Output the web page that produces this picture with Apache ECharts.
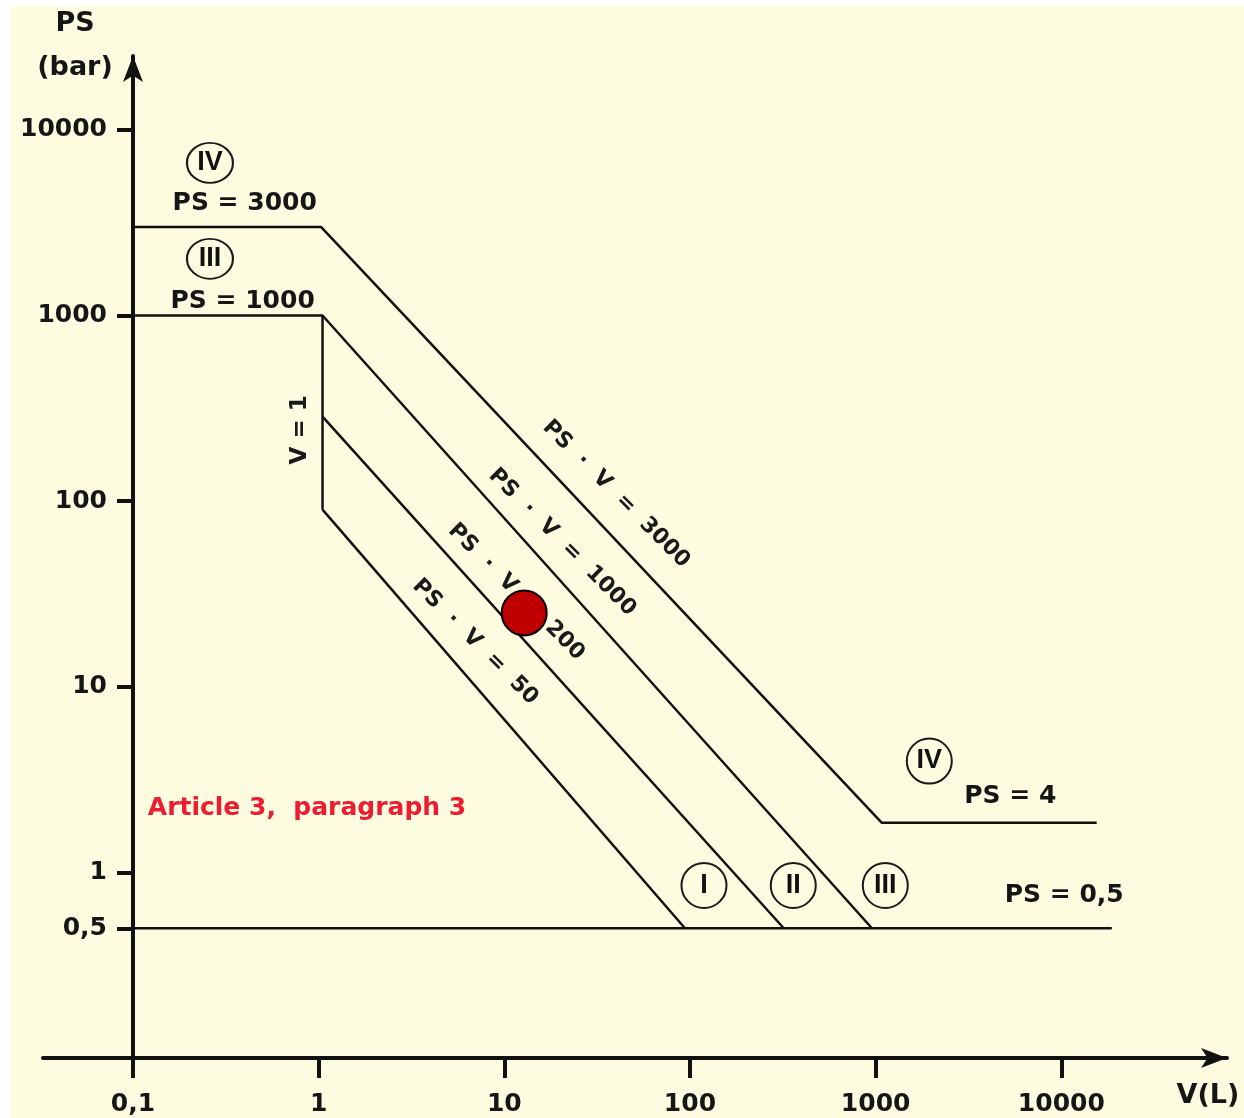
<!DOCTYPE html>
<html><head><meta charset="utf-8">
<script src="https://cdn.jsdelivr.net/npm/echarts@6/dist/echarts.min.js"></script>
<style>
html,body{margin:0;padding:0;background:#fff;width:1244px;height:1118px;overflow:hidden}
#chart{position:absolute;left:11px;top:6px;width:1233px;height:1112px}
</style></head><body><div id="chart"></div>
<script>
// ---- axis ticks (log scales) ----
const xTicks = [0.1, 1, 10, 100, 1000, 10000];
const yTicks = [0.5, 1, 10, 100, 1000, 10000];
const xRange = [0.0328, 78000];
const yRange = [0.1, 25000];

// ---- category boundary lines [V (L), PS (bar)] ----
const boundaryIV  = [[0.1, 3000], [1.03, 3000], [1080, 1.85], [15500, 1.85]];
const boundaryIII = [[0.1, 1000], [1.05, 1000], [955, 0.5]];
const boundaryII  = [[1.05, 285], [320, 0.5]];
const boundaryI   = [[1.05, 90], [94, 0.5]];
const lineV1      = [[1.05, 1000], [1.05, 90]];
const linePS05    = [[0.1, 0.5], [18700, 0.5]];

// ---- category markers [V, PS, label] ----
const circlesTop    = [[0.26, 6640, 'IV'], [0.26, 2020, 'III']];
const circlesBottom = [[1945, 3.98, 'IV'], [119, 0.85, 'I'], [360, 0.85, 'II'], [1127, 0.85, 'III']];

// ---- annotations [V, PS, text] ----
const limitNotes   = [[0.40, 3990, 'PS = 3000'], [0.39, 1183, 'PS = 1000'], [5310, 2.55, 'PS = 4'], [10370, 0.755, 'PS = 0,5']];
const productNotes = [[40, 109, 'PS  ·  V  =  3000'], [20.5, 60, 'PS  ·  V  =  1000'], [11.6, 32.4, 'PS  ·  V  =  200'], [6.97, 17.4, 'PS  ·  V  =  50']];
const volumeNote   = [[0.795, 242, 'V = 1']];
const articleNote  = [[0.866, 2.2, 'Article 3,  paragraph 3']];

// ---- marked equipment point [V, PS] ----
const markedPoint = [[12.8, 25]];

const fmt = v => String(+(+v).toPrecision(6)).replace('.', ',');
const INK = '#111';

function lineSeries(data, w) {
  return {type: 'line', data: data, symbol: 'none', silent: true, clip: false, animation: false,
    lineStyle: {color: INK, width: w, opacity: 1}, emphasis: {disabled: true}, z: 3};
}
function textSeries(data, style, rotate) {
  return {type: 'scatter', symbolSize: 1, silent: true, clip: false, z: 5,
    itemStyle: {color: 'rgba(0,0,0,0)', opacity: 1}, emphasis: {disabled: true},
    data: data.map(d => ({value: [d[0], d[1]], name: d[2]})),
    label: Object.assign({show: true, position: 'inside', formatter: p => p.name, rotate: rotate || 0,
      align: 'center', verticalAlign: 'middle', opacity: 1}, style)};
}
function circleSeries(data, size) {
  return {type: 'scatter', symbol: 'circle', symbolSize: size, silent: true, clip: false, z: 4,
    itemStyle: {color: 'rgba(0,0,0,0)', borderColor: '#1a1a1a', borderWidth: 2, opacity: 1}, emphasis: {disabled: true},
    data: data.map(d => ({value: [d[0], d[1]], name: d[2]})),
    label: {show: true, position: 'inside', formatter: p => p.name, color: INK, opacity: 1,
      fontFamily: 'Liberation Sans', fontWeight: 'bold', fontSize: 27}};
}

const boldText = {fontFamily: 'DejaVu Sans', fontWeight: 'bold', fontSize: 25, color: '#161616'};

const chart = echarts.init(document.getElementById('chart'), null, {renderer: 'canvas'});
chart.setOption({
  backgroundColor: '#FDFCE1',
  animation: false,
  grid: {left: 32, right: 17, top: 50, bottom: 60, outerBoundsMode: 'none', containLabel: false},
  xAxis: {
    type: 'log', logBase: 10, min: xRange[0], max: xRange[1],
    name: 'V(L)', nameLocation: 'end', nameGap: -19, nameMoveOverlap: false,
    nameTextStyle: {fontFamily: 'DejaVu Sans', fontWeight: 'bold', fontSize: 27, color: '#161616',
      align: 'center', verticalAlign: 'top', lineHeight: 76},
    axisLine: {show: true, symbol: ['none', 'arrow'], symbolSize: [15, 26], lineStyle: {color: INK, width: 4}},
    axisTick: {show: true, customValues: xTicks, length: 20, lineStyle: {color: INK, width: 4}},
    axisLabel: {show: true, customValues: xTicks, formatter: fmt, margin: 34,
      fontFamily: 'DejaVu Sans', fontWeight: 'bold', fontSize: 25, color: '#161616'},
    splitLine: {show: false}, minorTick: {show: false}, minorSplitLine: {show: false}
  },
  yAxis: {
    type: 'log', logBase: 10, min: yRange[0], max: yRange[1], offset: -90,
    name: 'PS\n(bar)', nameLocation: 'end', nameGap: 10, nameMoveOverlap: false,
    nameTextStyle: {fontFamily: 'DejaVu Sans', fontWeight: 'bold', fontSize: 27, color: '#161616',
      align: 'center', verticalAlign: 'middle', lineHeight: 44, padding: [0, 116, 0, 0]},
    axisLine: {show: true, symbol: ['none', 'arrow'], symbolSize: [15, 26], lineStyle: {color: INK, width: 4}},
    axisTick: {show: true, customValues: yTicks, length: 16, lineStyle: {color: INK, width: 4}},
    axisLabel: {show: true, customValues: yTicks, formatter: fmt, margin: 26,
      fontFamily: 'DejaVu Sans', fontWeight: 'bold', fontSize: 25, color: '#161616'},
    splitLine: {show: false}, minorTick: {show: false}, minorSplitLine: {show: false}
  },
  series: [
    lineSeries(boundaryIV, 2.5),
    lineSeries(boundaryIII, 2.5),
    lineSeries(boundaryII, 2.5),
    lineSeries(boundaryI, 2.5),
    lineSeries(lineV1, 2.5),
    lineSeries(linePS05, 2.5),
    circleSeries(circlesTop, [46, 40]),
    circleSeries(circlesBottom, 45),
    textSeries(limitNotes, boldText),
    textSeries(productNotes, {fontFamily: 'DejaVu Sans', fontWeight: 'bold', fontSize: 22, color: '#1a1a1a'}, -45),
    textSeries(volumeNote, {fontFamily: 'DejaVu Sans', fontWeight: 'bold', fontSize: 23, color: '#1a1a1a'}, 90),
    textSeries(articleNote, {fontFamily: 'DejaVu Sans', fontWeight: 'bold', fontSize: 25, color: '#EE1C30'}),
    {type: 'scatter', data: markedPoint, symbol: 'circle', symbolSize: 45, z: 10, silent: true,
      itemStyle: {color: '#BF0000', borderColor: '#000', borderWidth: 2, opacity: 1}, emphasis: {disabled: true}}
  ]
});
</script></body></html>
